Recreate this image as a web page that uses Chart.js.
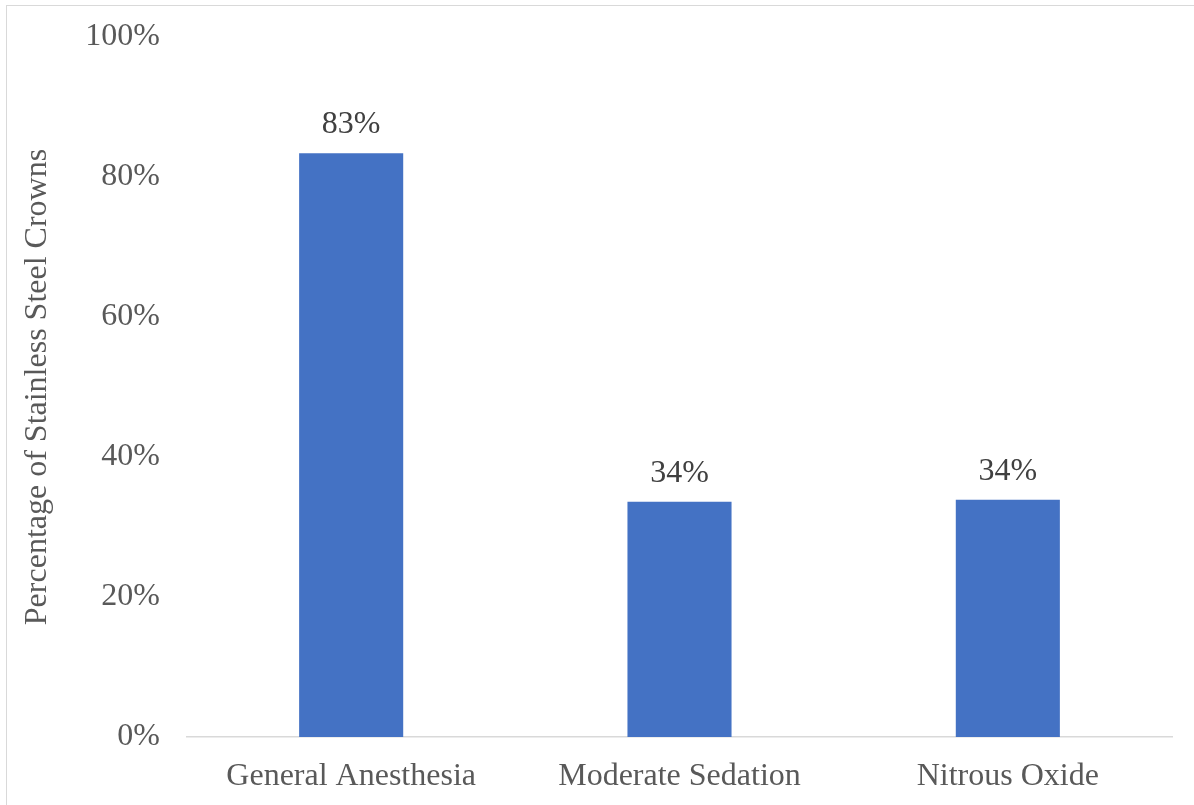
<!DOCTYPE html>
<html>
<head>
<meta charset="utf-8">
<script src="https://cdn.jsdelivr.net/npm/chart.js@4/dist/chart.umd.min.js"></script>
<style>
  html, body { margin: 0; padding: 0; background: #ffffff; overflow: hidden; }
  #frame {
    position: absolute; left: 6px; top: 5px; width: 1400px; height: 1000px;
    border-left: 1px solid #d9d9d9; border-top: 1px solid #d9d9d9;
  }
  #wrap { position: absolute; left: 0; top: 0; width: 1194px; height: 805px; }
</style>
</head>
<body>
<div id="frame"></div>
<div id="wrap"><canvas id="c" width="1194" height="805"></canvas></div>
<script>
const categories = ["General Anesthesia", "Moderate Sedation", "Nitrous Oxide"];
const crownPercent = [83.4, 33.6, 33.9];
const yTicks = [0, 20, 40, 60, 80, 100];

const serif = "'Liberation Serif', 'Times New Roman', serif";

// Writes the rounded percentage above each bar
const valueLabels = {
  id: "valueLabels",
  afterDatasetsDraw(chart) {
    const ctx = chart.ctx;
    const meta = chart.getDatasetMeta(0);
    ctx.save();
    ctx.font = "32px " + serif;
    ctx.fillStyle = "#404040";
    ctx.textAlign = "center";
    ctx.textBaseline = "alphabetic";
    meta.data.forEach((bar, i) => {
      const v = chart.data.datasets[0].data[i];
      ctx.fillText(Math.round(v) + "%", bar.x, bar.y - 20);
    });
    ctx.restore();
  }
};

new Chart(document.getElementById("c"), {
  type: "bar",
  data: {
    labels: categories,
    datasets: [{
      data: crownPercent,
      backgroundColor: "#4472c4",
      borderWidth: 0,
      categoryPercentage: 1,
      barPercentage: 0.317
    }]
  },
  options: {
    responsive: false,
    animation: false,
    devicePixelRatio: 1,
    layout: { padding: { top: 37, right: 22, bottom: 0, left: 0 } },
    plugins: { legend: { display: false }, tooltip: { enabled: false } },
    scales: {
      x: {
        grid: { display: false, drawTicks: false },
        border: { display: true, color: "#d9d9d9", width: 1.5 },
        ticks: {
          color: "#595959",
          font: { family: serif, size: 32 },
          padding: 20,
          maxRotation: 0,
          autoSkip: false
        },
        afterFit(scale) { scale.height = 68; }
      },
      y: {
        min: 0,
        max: 100,
        afterBuildTicks(scale) { scale.ticks = yTicks.map(v => ({ value: v })); },
        grid: { display: false, drawTicks: false },
        border: { display: false },
        ticks: {
          color: "#595959",
          font: { family: serif, size: 32 },
          padding: 27,
          callback: v => v + "%"
        },
        title: {
          display: true,
          text: "Percentage of Stainless Steel Crowns",
          color: "#595959",
          font: { family: serif, size: 32 },
          padding: { top: 18, bottom: 0 }
        },
        afterFit(scale) {
          scale.width = 187;
          scale.paddingTop = 0;
          scale.paddingBottom = 0;
        }
      }
    }
  },
  plugins: [valueLabels]
});
</script>
</body>
</html>
